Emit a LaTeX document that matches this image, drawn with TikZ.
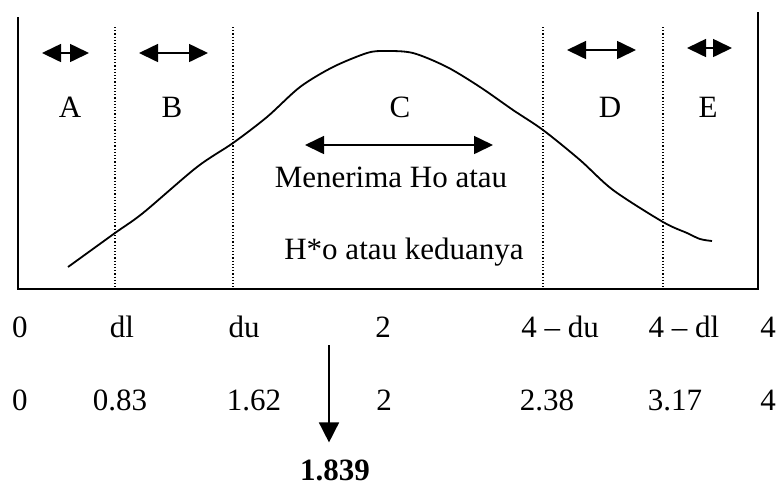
\documentclass[tikz,border=0pt]{standalone}
\usepackage{fontspec}
\setmainfont{Liberation Serif}
\usetikzlibrary{arrows.meta}

\begin{document}
\begin{tikzpicture}[x=0.5pt, y=-0.5pt, font=\fontsize{15.5}{18}\selectfont,
  region/.style={{Triangle[length=9.5pt,width=9pt]}-{Triangle[length=9.5pt,width=9pt]}, line width=0.8pt},
  bound/.style={densely dotted, line width=0.6pt}]
  \useasboundingbox (0,0) rectangle (779,484);
  % Frame
  \draw[line width=1pt] (18,17) -- (18,289) -- (758,289) -- (758,12);
  % Region boundaries
  \foreach \x in {115,233,543,663}{
    \draw[bound] (\x,27) -- (\x,289);
  }
  % Density curve
  \draw[line width=0.9pt] plot[smooth] coordinates {(68,267) (115,233) (143,213) (197,167) (233,143)
    (267,117) (300,87) (333,67) (367,53) (385,51) (413,53) (447,67) (480,87) (513,110) (543,130)
    (580,160) (613,190) (663,222) (687,233) (700,239) (712,241)};
  % Region arrows and letters
  \foreach \a/\b/\y/\c/\l in {42/89/53/70/A, 139/208/53/172/B, 567/636/50/610/D, 687/732/48/708/E}{
    \draw[region] (\a,\y) -- (\b,\y);
    \node (reg\l) at (\c,107) {\l};
  }
  \node (regC) at (400,107) {C};
  \draw[region] (305,145) -- (493,145);
  \node (acc1) at (391,177) {Menerima Ho atau};
  \node (acc2) at (404,252) {H*o atau keduanya};
  % Axis labels
  \foreach \x/\t [count=\i] in {20/0, 122/dl, 244/du, 383/2, 560/{4 -- du}, 684/{4 -- dl}, 768/4}{
    \node (sym\i) at (\x,327) {\t};
  }
  \foreach \x/\t [count=\i] in {20/0, 120/0.83, 254/1.62, 384/2, 547/2.38, 675/3.17, 768/4}{
    \node (num\i) at (\x,400) {\t};
  }
  % Test statistic
  \node[font=\fontsize{15.5}{18}\selectfont\bfseries] (dw) at (335,470) {1.839};
  \coordinate (dwtop) at (329,345);
  \draw[line width=0.8pt, -{Triangle[length=10pt,width=10pt]}, shorten >=5pt] (dwtop) -- (dwtop |- dw.north);
\end{tikzpicture}
\end{document}
